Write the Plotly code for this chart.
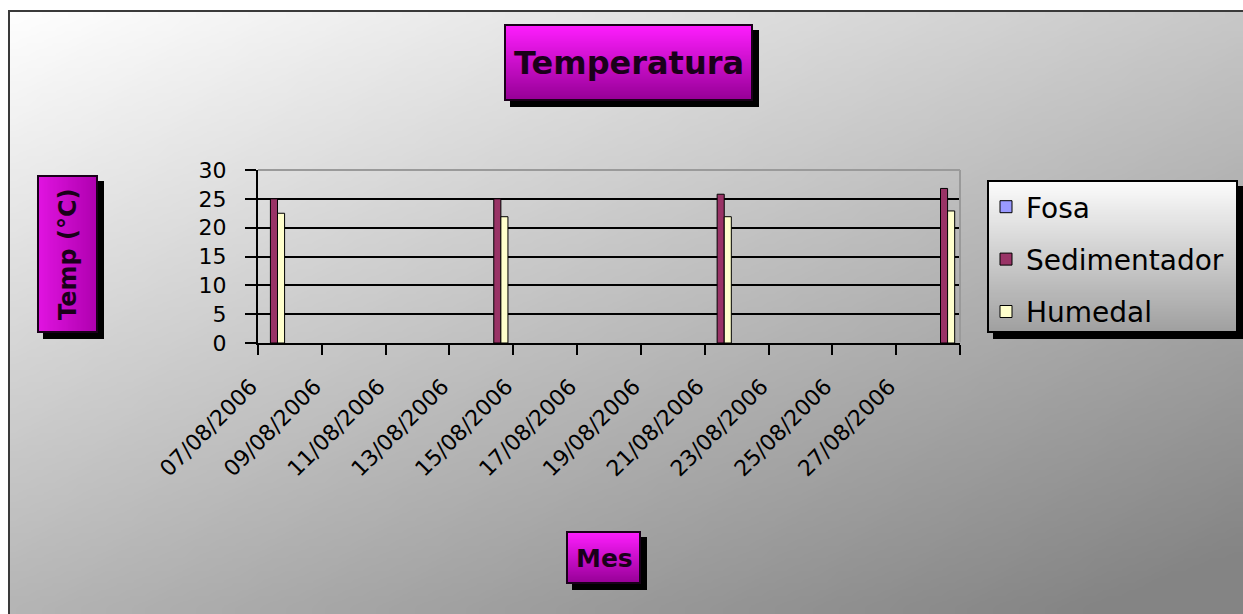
import base64
import struct
import zlib
from datetime import datetime

import plotly.graph_objects as go

# ---- data -------------------------------------------------------------
fechas = ["07/08/2006", "14/08/2006", "21/08/2006", "28/08/2006"]
fosa = [None, None, None, None]
sedimentador = [25.0, 25.0, 25.8, 26.8]
humedal = [22.5, 21.9, 21.9, 22.9]

etiquetas_x = ["07/08/2006", "09/08/2006", "11/08/2006", "13/08/2006",
               "15/08/2006", "17/08/2006", "19/08/2006", "21/08/2006",
               "23/08/2006", "25/08/2006", "27/08/2006"]
fin_eje = "29/08/2006"
ticks_y = [0, 5, 10, 15, 20, 25, 30]

series = [("Fosa", fosa, "#9999ff"),
          ("Sedimentador", sedimentador, "#993366"),
          ("Humedal", humedal, "#ffffcc")]

# ---- geometry ---------------------------------------------------------
W, H = 1243, 614
ML, MR, MT, MB = 258, 283, 170, 271
PW, PH = W - ML - MR, H - MT - MB
FONT = "DejaVu Sans"
DAY = 86400000  # ms


def px(x):
    return (x - ML) / PW


def py(y):
    return 1 - (y - MT) / PH


def iso(d):
    return datetime.strptime(d, "%d/%m/%Y").strftime("%Y-%m-%d")


def png_uri(w, h, fn):
    rows = b"".join(
        b"\x00" + bytes(c for x in range(w) for c in fn(x / (w - 1), y / (h - 1)))
        for y in range(h)
    )

    def chunk(tag, data):
        body = tag + data
        return struct.pack(">I", len(data)) + body + struct.pack(">I", zlib.crc32(body) & 0xFFFFFFFF)

    raw = (b"\x89PNG\r\n\x1a\n"
           + chunk(b"IHDR", struct.pack(">IIBBBBB", w, h, 8, 2, 0, 0, 0))
           + chunk(b"IDAT", zlib.compress(rows))
           + chunk(b"IEND", b""))
    return "data:image/png;base64," + base64.b64encode(raw).decode()


def mix(c0, c1, t):
    t = max(0.0, min(1.0, t))
    return tuple(int(round(a + (b - a) * t)) for a, b in zip(c0, c1))


def img(src, x0, y0, x1, y1, layer):
    return dict(source=src, xref="paper", yref="paper", x=px(x0), y=py(y0),
                sizex=(x1 - x0) / PW, sizey=(y1 - y0) / PH,
                xanchor="left", yanchor="top", sizing="stretch", layer=layer)


def rect(x0, y0, x1, y1, layer, fill=None, line=None, lw=0):
    return dict(type="rect", xref="paper", yref="paper",
                x0=px(x0), x1=px(x1), y0=py(y1), y1=py(y0), layer=layer,
                fillcolor=fill or "rgba(0,0,0,0)",
                line=dict(color=line or "rgba(0,0,0,0)", width=lw))


# gradients
fondo = png_uri(96, 48, lambda u, v: mix((254, 254, 254), (132, 132, 132), 0.45 * u + 0.6 * v))
magenta_v = png_uri(8, 48, lambda u, v: mix((255, 30, 255), (150, 0, 150), v))
magenta_h = png_uri(48, 8, lambda u, v: mix((225, 20, 225), (175, 0, 175), u))
leyenda_bg = png_uri(8, 48, lambda u, v: mix((252, 252, 252), (160, 160, 160), v))

fig = go.Figure()

w = DAY / 4.5
offsets = [0.5 * DAY - 1.5 * w, 0.5 * DAY - 0.5 * w, 0.5 * DAY + 0.5 * w]
for (nombre, valores, color), off in zip(series, offsets):
    fig.add_trace(go.Bar(
        x=[iso(d) for d in fechas], y=valores, name=nombre,
        width=[w] * len(fechas), offset=off,
        marker=dict(color=color, line=dict(color="black", width=1)),
        legendgroup=nombre, hoverinfo="skip",
    ))

shapes = []
images = [img(fondo, 9, 11, W, H, "below")]

# chart frame
shapes.append(rect(9, 11, W + 10, H + 10, "below", line="#3a3a3a", lw=2))

# boxed titles: (x0, y0, x1, y1, gradient)
cajas = [(504, 24, 753, 101, magenta_v),
         (37, 175, 98, 333, magenta_h),
         (566, 531, 641, 584, magenta_v)]
for x0, y0, x1, y1, g in cajas:
    shapes.append(rect(x0 + 6, y0 + 6, x1 + 6, y1 + 6, "below", fill="black"))
    images.append(img(g, x0, y0, x1, y1, "above"))
    shapes.append(rect(x0 + 1, y0 + 1, x1 - 1, y1 - 1, "above", line="#1a001a", lw=2))

# legend frame
lx0, ly0, lx1, ly1 = 987, 180, 1238, 333
shapes.append(rect(lx0 + 6, ly0 + 6, lx1 + 6, ly1 + 6, "below", fill="black"))
images.append(img(leyenda_bg, lx0, ly0, lx1, ly1, "above"))
shapes.append(rect(lx0 + 1, ly0 + 1, lx1 - 1, ly1 - 1, "above", line="black", lw=2))

# light edge along the top and right of the plot area
shapes.append(dict(type="line", xref="paper", yref="paper", x0=0, x1=1, y0=1, y1=1,
                   line=dict(color="#9a9a9a", width=2), layer="above"))
shapes.append(dict(type="line", xref="paper", yref="paper", x0=1, x1=1, y0=0.004, y1=1,
                   line=dict(color="#9a9a9a", width=2), layer="above"))

texto = "#1a001a"
ann = dict(xref="paper", yref="paper", showarrow=False, xanchor="center", yanchor="middle")
annotations = [
    dict(ann, text="<b>Temperatura</b>", x=px(629), y=py(63),
         font=dict(family=FONT, size=32, color=texto)),
    dict(ann, text="<b>Temp (°C)</b>", x=px(68), y=py(254), textangle=-90,
         font=dict(family=FONT, size=24, color=texto)),
    dict(ann, text="<b>Mes</b>", x=px(604), y=py(558),
         font=dict(family=FONT, size=25, color=texto)),
]

fig.update_layout(
    width=W, height=H,
    margin=dict(l=ML, r=MR, t=MT, b=MB, autoexpand=False),
    paper_bgcolor="white", plot_bgcolor="#c3c3c3",
    barmode="overlay", hovermode=False,
    font=dict(family=FONT, color="black"),
    shapes=shapes, images=images, annotations=annotations,
    legend=dict(x=px(986), y=py(182), xanchor="left", yanchor="top",
                bgcolor="rgba(0,0,0,0)", borderwidth=0,
                font=dict(family=FONT, size=28, color="black"),
                traceorder="grouped", tracegroupgap=13),
    xaxis=dict(type="date", range=[iso(etiquetas_x[0]), iso(fin_eje)],
               tickvals=[iso(d) for d in etiquetas_x] + [iso(fin_eje)],
               ticktext=etiquetas_x + [""],
               tickangle=-45, tickfont=dict(family=FONT, size=22, color="black"),
               ticks="outside", ticklen=10, tickwidth=2, tickcolor="black",
               ticklabelstandoff=10, ticklabelshift=-7,
               showline=True, linecolor="black", linewidth=2,
               showgrid=False, zeroline=False, fixedrange=True),
    yaxis=dict(range=[0, 30], tickvals=ticks_y,
               tickfont=dict(family=FONT, size=22, color="black"),
               ticks="outside", ticklen=11, tickwidth=2, tickcolor="black",
               ticklabelstandoff=14,
               showline=True, linecolor="black", linewidth=2,
               showgrid=True, gridcolor="black", gridwidth=2,
               zeroline=False, fixedrange=True),
)

fig.write_html("out.html", config={"displayModeBar": False})
